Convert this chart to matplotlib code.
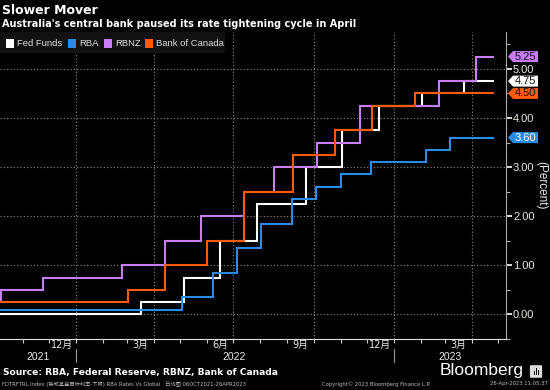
import matplotlib
matplotlib.use("Agg")
import matplotlib.pyplot as plt
from matplotlib.patches import Polygon, Rectangle, FancyBboxPatch
import pandas as pd

plt.rcParams['font.family'] = ['DejaVu Sans', 'Noto Sans CJK SC']
NARROW = ['Liberation Sans', 'Noto Sans CJK SC']

# ---------------- data ----------------
start_date = "2021-10-06"
end_date = "2023-04-25"

fed_dates = ["2021-10-06", "2022-03-17", "2022-05-05", "2022-06-16", "2022-07-28",
             "2022-09-22", "2022-11-03", "2022-12-15", "2023-02-02", "2023-03-23"]
fed_values = [0.00, 0.25, 0.75, 1.50, 2.25, 3.00, 3.75, 4.25, 4.50, 4.75]

rba_dates = ["2021-10-06", "2022-05-03", "2022-06-07", "2022-07-05", "2022-08-02",
             "2022-09-06", "2022-10-04", "2022-11-01", "2022-12-06", "2023-02-07", "2023-03-07"]
rba_values = [0.10, 0.35, 0.85, 1.35, 1.85, 2.35, 2.60, 2.85, 3.10, 3.35, 3.60]

rbnz_dates = ["2021-10-06", "2021-10-07", "2021-11-24", "2022-02-23", "2022-04-13",
              "2022-05-25", "2022-07-13", "2022-08-17", "2022-10-05", "2022-11-23",
              "2023-02-22", "2023-04-05"]
rbnz_values = [0.25, 0.50, 0.75, 1.00, 1.50, 2.00, 2.50, 3.00, 3.50, 4.25, 4.75, 5.25]

boc_dates = ["2021-10-06", "2022-03-02", "2022-04-13", "2022-06-01", "2022-07-13",
             "2022-09-07", "2022-10-26", "2022-12-07", "2023-01-25"]
boc_values = [0.25, 0.50, 1.00, 1.50, 2.50, 3.25, 3.75, 4.25, 4.50]

series_names = ["Fed Funds", "RBA", "RBNZ", "Bank of Canada"]
series_colors = ["#FFFFFF", "#2A8BEA", "#C77DF3", "#FF5A0A"]
tag_text_colors = ["#111111", "#FFFFFF", "#111111", "#111111"]

y_ticks = [0, 1, 2, 3, 4, 5]
quarter_month_labels = ["12月", "3月", "6月", "9月", "12月", "3月"]
quarter_label_dates = ["2021-12-16", "2022-03-16", "2022-06-16", "2022-09-16", "2022-12-16", "2023-03-16"]
year_labels = ["2021", "2022", "2023"]

# ---------------- figure ----------------
W, H = 550, 390
fig = plt.figure(figsize=(W / 100, H / 100), dpi=100, facecolor="black")


def fx(px):
    return px / W


def fy(py):
    return 1 - py / H


ax_left, ax_right, ax_top, ax_bottom = 0, 506, 32, 339
ax = fig.add_axes([fx(ax_left), fy(ax_bottom), fx(ax_right - ax_left), (ax_bottom - ax_top) / H])
ax.set_facecolor("black")

x0 = pd.Timestamp(start_date)
x1 = pd.Timestamp("2023-05-10")
ax.set_xlim(x0, x1)
ax.set_ylim(-0.5, 5.75)

grid_kw = dict(color="#8a8a8a", lw=0.8, ls=(0, (1, 2)), zorder=1)
for v in y_ticks:
    ax.axhline(v, **grid_kw)
for d in pd.date_range("2022-01-01", "2023-04-01", freq="QS"):
    ax.axvline(d, **grid_kw)

all_dates = [fed_dates, rba_dates, rbnz_dates, boc_dates]
all_values = [fed_values, rba_values, rbnz_values, boc_values]
end_ts = pd.Timestamp(end_date)
for i, (ds, vs) in enumerate(zip(all_dates, all_values)):
    xs = list(pd.to_datetime(ds)) + [end_ts]
    ys = list(vs) + [vs[-1]]
    ax.plot(xs, ys, drawstyle="steps-post", color=series_colors[i], lw=1.5, zorder=3 + i,
            solid_joinstyle="miter")

# spines
for s in ["left", "top"]:
    ax.spines[s].set_visible(False)
ax.spines["right"].set_color("#aaaaaa")
ax.spines["bottom"].set_color("#e0e0e0")

# y axis on right
ax.yaxis.tick_right()
ax.set_yticks(y_ticks)
ax.set_yticklabels([f"{v:.2f}" for v in y_ticks], family=NARROW)
ax.set_yticks([0.5 + k for k in range(-1, 6)], minor=True)
ax.tick_params(axis="y", which="major", direction="out", length=4, width=1.2, color="white",
               labelcolor="#eeeadc", labelsize=8, pad=1)
ax.tick_params(axis="y", which="minor", direction="out", length=3, width=0.8, color="#aaaaaa")

# x axis: month ticks
month_ticks = pd.date_range("2021-11-01", "2023-05-01", freq="MS")
ax.set_xticks(month_ticks)
ax.set_xticklabels([])
ax.tick_params(axis="x", which="major", direction="out", length=3, width=0.8, color="#cccccc")
ax.set_xticks(pd.to_datetime(quarter_label_dates), minor=True)
ax.set_xticklabels(quarter_month_labels, minor=True)
ax.tick_params(axis="x", which="minor", length=0, labelcolor="#e8e8e8", labelsize=7, pad=1)

# years
xtrans = ax.get_xaxis_transform()
axh = ax_bottom - ax_top
year_centers = [x0 + (pd.Timestamp("2022-01-01") - x0) / 2,
                pd.Timestamp("2022-07-02"),
                pd.Timestamp("2023-01-01") + (x1 - pd.Timestamp("2023-01-01")) / 2]
for lab, c in zip(year_labels, year_centers):
    ax.text(c, -(357 - ax_bottom) / axh, lab, transform=xtrans, ha="center",
            va="center", color="#e8e8e8", fontsize=7.5, family=NARROW)
for d in ["2022-01-01", "2023-01-01"]:
    ax.plot([pd.Timestamp(d)] * 2, [-(349 - ax_bottom) / axh, -(362 - ax_bottom) / axh],
            transform=xtrans, color="#999999", lw=0.8, clip_on=False)

# value tags on right
ytrans = ax.get_yaxis_transform()
axw = ax_right - ax_left
ppu = axh / (5.75 + 0.5)
hh = 5.5 / ppu
for i, vs in enumerate(all_values):
    v = vs[-1]
    xa = (508 - ax_left) / axw
    xb = (513 - ax_left) / axw
    xc = (538 - ax_left) / axw
    poly = Polygon([[xa, v], [xb, v + hh], [xc, v + hh], [xc, v - hh], [xb, v - hh]], closed=True,
                   transform=ytrans, facecolor=series_colors[i], edgecolor="none", clip_on=False, zorder=10)
    ax.add_patch(poly)
    ax.text((525.5 - ax_left) / axw, v, f"{v:.2f}", transform=ytrans, ha="center", va="center",
            color=tag_text_colors[i], fontsize=8, zorder=11, clip_on=False, family=NARROW)

fig.text(fx(541), fy(185), "(Percent)", rotation=270, ha="center", va="center", color="#e8e8e8",
         fontsize=8.5, family=NARROW)

# titles
fig.text(fx(2), fy(11), "Slower Mover", ha="left", va="center", color="white", fontsize=9, fontweight="bold")
fig.text(fx(2), fy(24), "Australia's central bank paused its rate tightening cycle in April", ha="left",
         va="center", color="white", fontsize=7, fontweight="bold")

# legend
fig.patches.append(Rectangle((fx(0), fy(53)), fx(225), 21 / H, transform=fig.transFigure,
                             facecolor="#111111", edgecolor="none", zorder=5))
leg_sq_x = [6, 68, 104, 145]
for i, name in enumerate(series_names):
    fig.patches.append(Rectangle((fx(leg_sq_x[i]), fy(47.5)), fx(8), 8 / H, transform=fig.transFigure,
                                 facecolor=series_colors[i], edgecolor="none", zorder=6))
    fig.text(fx(leg_sq_x[i] + 11), fy(43.5), name, ha="left", va="center", color="#dddddd", fontsize=6.8,
             zorder=7, family=NARROW)

# footer
fig.text(fx(3), fy(372), "Source: RBA, Federal Reserve, RBNZ, Bank of Canada", ha="left", va="center",
         color="white", fontsize=6.6, fontweight="bold")
fig.text(fx(524), fy(371), "Bloomberg", ha="right", va="center", color="white", fontsize=12.5,
         family="Liberation Sans")
fig.patches.append(FancyBboxPatch((fx(531), fy(377)), fx(10), 11 / H, boxstyle="round,pad=0.002",
                                  transform=fig.transFigure, facecolor="#dddddd", edgecolor="none"))
for bx, bh in [(533.5, 4), (535.5, 7), (537.5, 5)]:
    fig.patches.append(Rectangle((fx(bx), fy(375)), fx(1.2), bh / H, transform=fig.transFigure,
                                 facecolor="black", edgecolor="none", zorder=3))
fig.text(fx(2), fy(384), "FDTRFTRL Index (联邦基金目标利率-下限) RBA Rates Vs Global   日线图 06OCT2021-26APR2023",
         ha="left", va="center", color="#bbbbbb", fontsize=3.8)
fig.text(fx(322), fy(384), "Copyright© 2023 Bloomberg Finance L.P.", ha="left", va="center", color="#bbbbbb",
         fontsize=3.8)
fig.text(fx(548), fy(384), "26-Apr-2023 11:05:37", ha="right", va="center", color="#bbbbbb", fontsize=3.8)

fig.savefig("out.png", dpi=100, facecolor="black")
